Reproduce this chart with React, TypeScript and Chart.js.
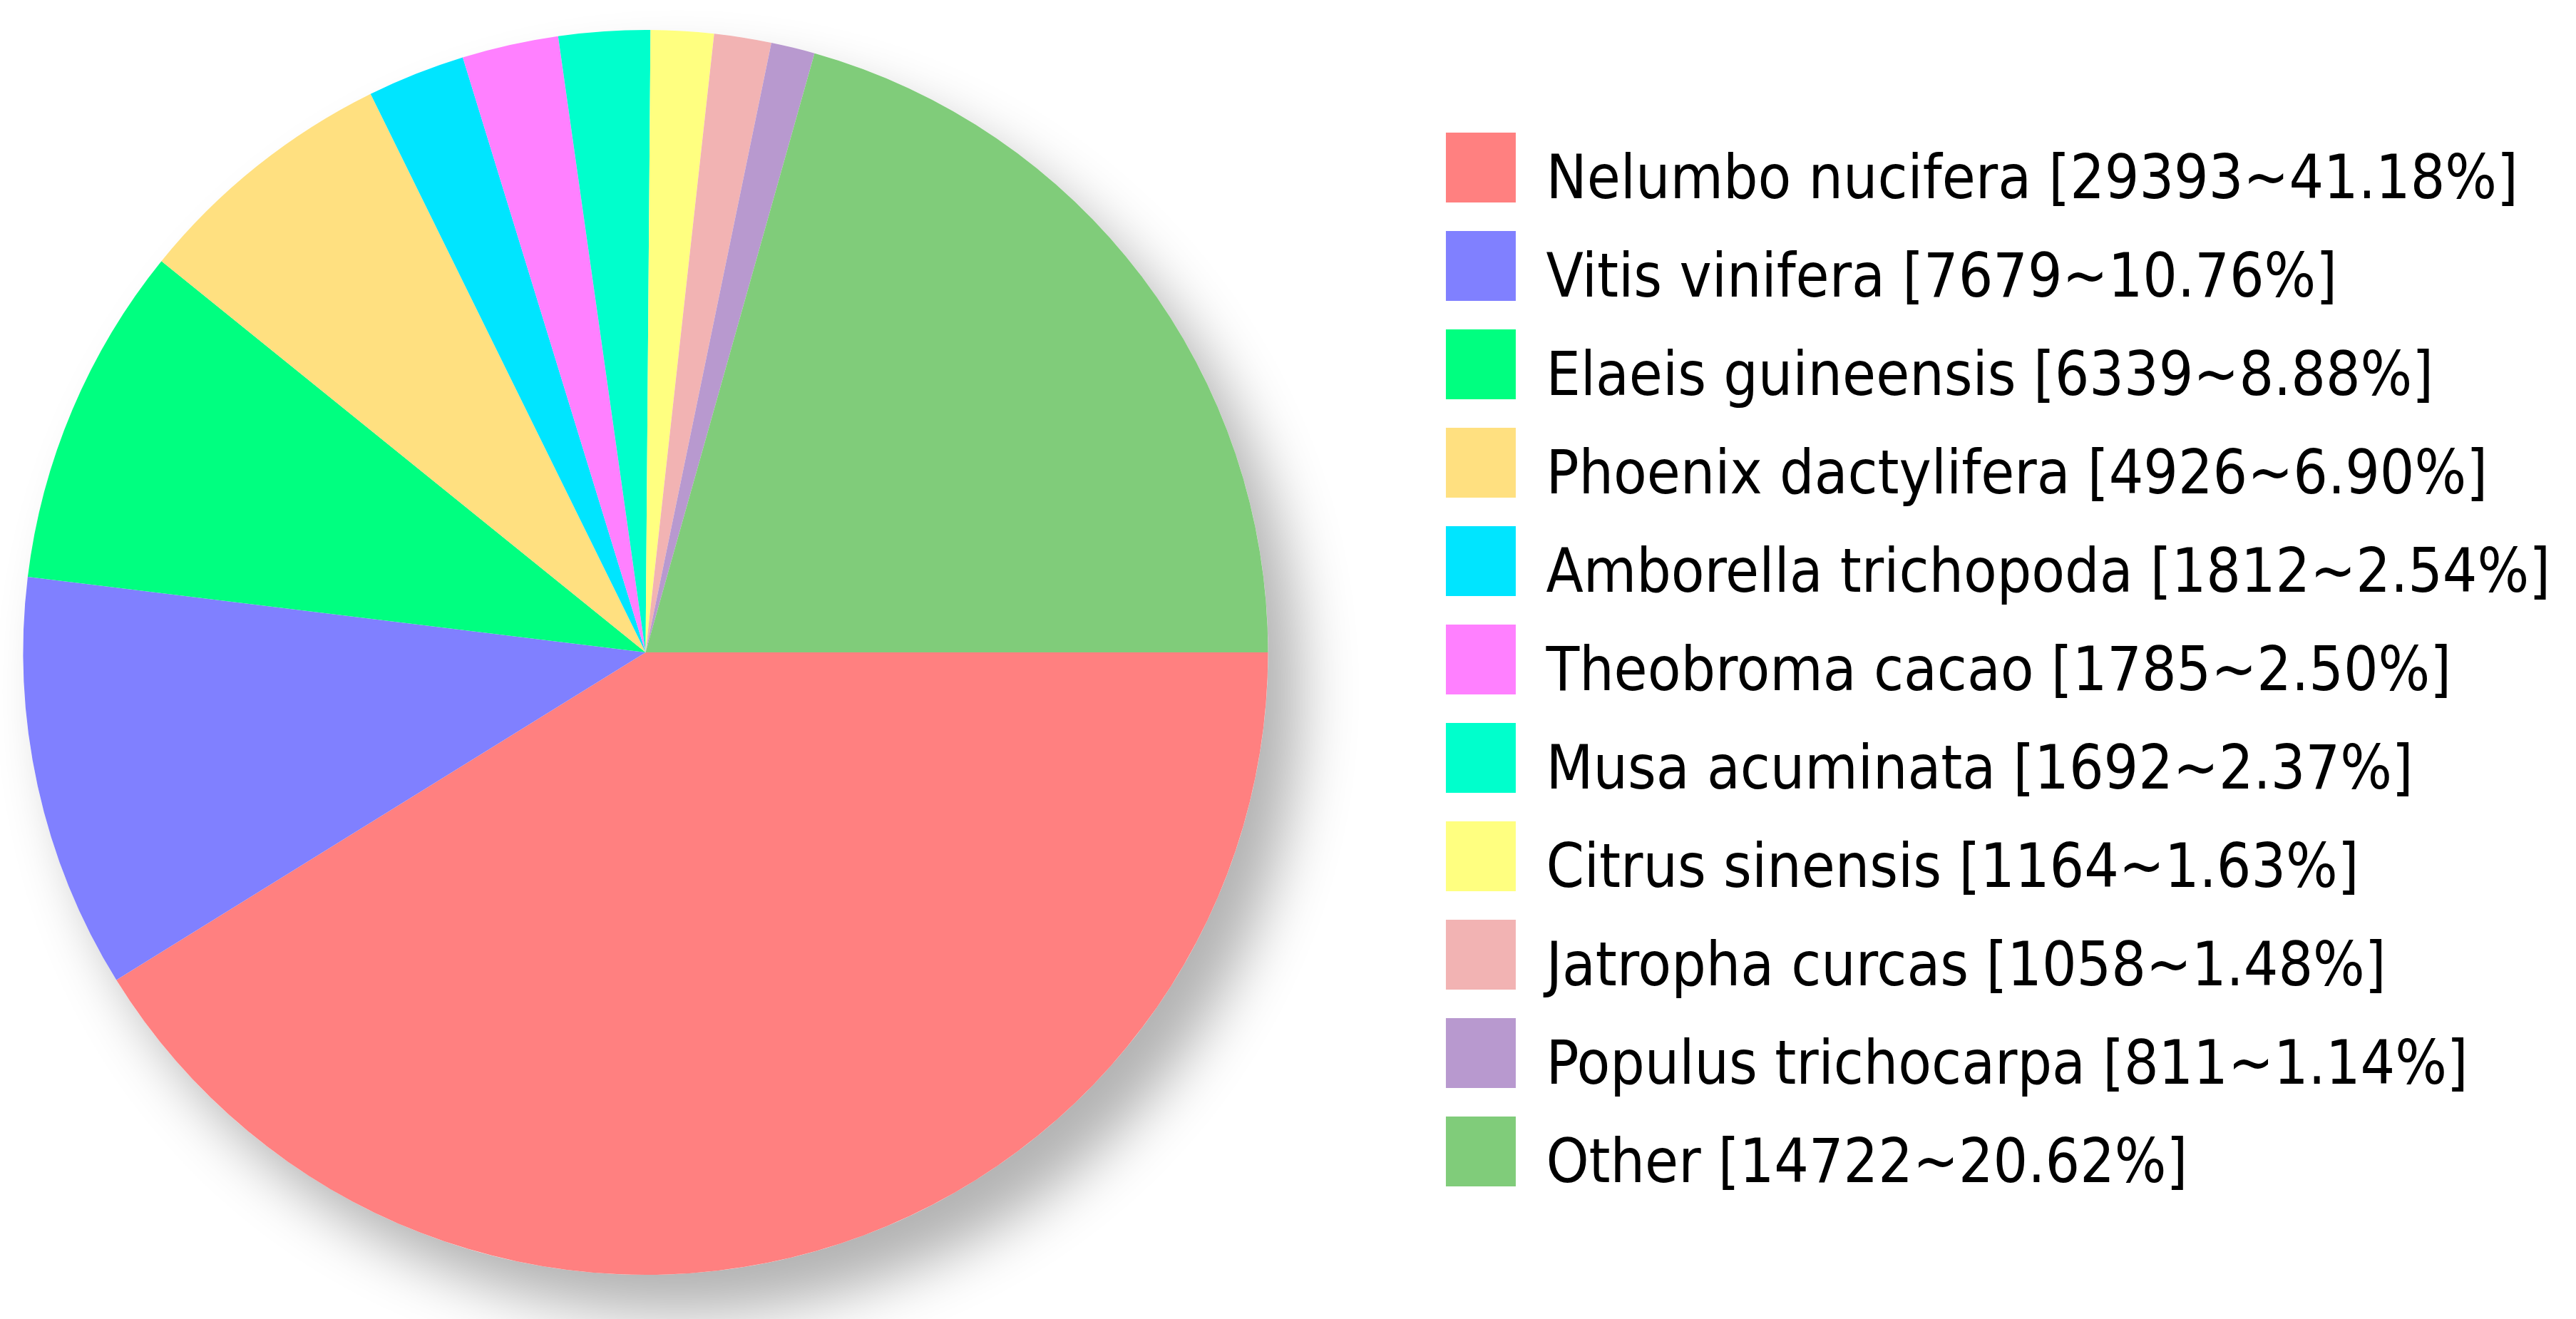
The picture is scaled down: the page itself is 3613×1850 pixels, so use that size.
import React, { useEffect, useRef } from "react";
import { Chart, registerables } from "chart.js";

Chart.register(...registerables);

// ---- data ----
const species = [
  "Nelumbo nucifera",
  "Vitis vinifera",
  "Elaeis guineensis",
  "Phoenix dactylifera",
  "Amborella trichopoda",
  "Theobroma cacao",
  "Musa acuminata",
  "Citrus sinensis",
  "Jatropha curcas",
  "Populus trichocarpa",
  "Other",
];
const counts = [29393, 7679, 6339, 4926, 1812, 1785, 1692, 1164, 1058, 811, 14722];
const percents = ["41.18", "10.76", "8.88", "6.90", "2.54", "2.50", "2.37", "1.63", "1.48", "1.14", "20.62"];
const colors = [
  "#FF8080",
  "#8080FF",
  "#00FF80",
  "#FFE080",
  "#00E5FF",
  "#FF80FF",
  "#00FFCC",
  "#FFFF80",
  "#F2B3B3",
  "#B899CF",
  "#80CC7A",
];

const labels = species.map((s, i) => `${s} [${counts[i]}~${percents[i]}%]`);

const FONT_FAMILY = "'DejaVu Sans Condensed', 'DejaVu Sans', sans-serif";
const BOX = 98;
const BOX_LIFT = 21;
const SHIFT_LEFT = 177;

const shadowPlugin = {
  id: "pieShadow",
  beforeDatasetsDraw(chart: any) {
    const meta = chart.getDatasetMeta(0);
    const arc = meta.data[0];
    if (!arc) return;
    const { x, y, outerRadius } = arc.getProps(["x", "y", "outerRadius"], true);
    const ctx = chart.ctx;
    ctx.save();
    ctx.shadowColor = "rgba(0,0,0,0.3)";
    ctx.shadowBlur = 80;
    ctx.shadowOffsetX = 45;
    ctx.shadowOffsetY = 55;
    ctx.fillStyle = "#ffffff";
    ctx.beginPath();
    ctx.arc(x, y, outerRadius, 0, Math.PI * 2);
    ctx.fill();
    ctx.restore();
  },
};

const legendBoxPlugin = {
  id: "legendBoxes",
  afterDraw(chart: any) {
    const lg = chart.legend;
    if (!lg || !lg.legendHitBoxes) return;
    const ctx = chart.ctx;
    const bg = chart.data.datasets[0].backgroundColor as string[];
    ctx.save();
    lg.legendHitBoxes.forEach((hb: any, i: number) => {
      ctx.fillStyle = bg[i];
      ctx.fillRect(hb.left, hb.top - BOX_LIFT, BOX, BOX);
    });
    ctx.restore();
  },
};

export default function App() {
  const ref = useRef<HTMLCanvasElement | null>(null);

  useEffect(() => {
    document.body.style.margin = "0";
    document.body.style.background = "#ffffff";
    document.body.style.overflow = "hidden";
    if (!ref.current) return;
    const chart = new Chart(ref.current, {
      type: "pie",
      data: {
        labels,
        datasets: [
          {
            data: counts,
            backgroundColor: colors,
            borderWidth: 0,
          },
        ],
      },
      options: {
        animation: false,
        responsive: true,
        maintainAspectRatio: false,
        rotation: 90,
        layout: {
          padding: { left: 0, right: 26, top: 42, bottom: 62 },
        },
        plugins: {
          tooltip: { enabled: false },
          legend: {
            position: "right",
            align: "center",
            title: {
              display: true,
              text: "",
              font: { size: 10 },
              padding: { top: 25, bottom: 25 },
            },
            labels: {
              boxWidth: BOX,
              boxHeight: BOX,
              padding: 40,
              color: "#000000",
              font: { size: 85, family: FONT_FAMILY },
              generateLabels: (c: any) => {
                const base = (Chart as any).overrides.pie.plugins.legend.labels.generateLabels(c);
                return base.map((it: any) => ({
                  ...it,
                  fillStyle: "rgba(0,0,0,0)",
                  strokeStyle: "rgba(0,0,0,0)",
                  lineWidth: 0,
                }));
              },
            },
          },
        },
      },
      plugins: [shadowPlugin, legendBoxPlugin],
    });
    return () => chart.destroy();
  }, []);

  return (
    <div
      style={{
        position: "fixed",
        left: -SHIFT_LEFT,
        top: 0,
        width: 3613 + SHIFT_LEFT,
        height: 1850,
        background: "#fff",
      }}
    >
      <canvas ref={ref} />
    </div>
  );
}
